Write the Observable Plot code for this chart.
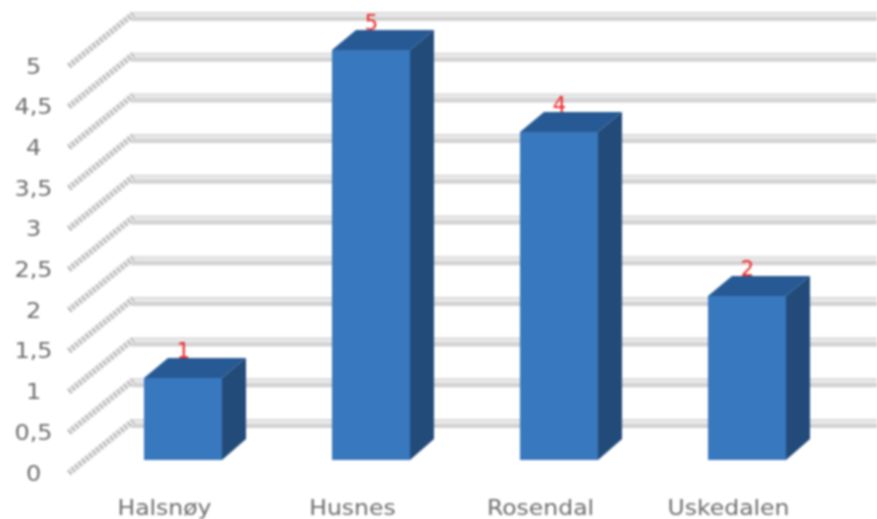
<!DOCTYPE html>
<html><head><meta charset="utf-8">
<script src="https://cdn.jsdelivr.net/npm/d3@7"></script>
<script src="https://cdn.jsdelivr.net/npm/@observablehq/plot@0.6"></script>
<style>
html,body{margin:0;padding:0;background:#fff}
svg{display:block;filter:blur(0.9px)}
</style></head><body><div id="chart"></div>
<script>
const categories = ["Halsnøy","Husnes","Rosendal","Uskedalen"];
const counts = [1,5,4,2];
const yTicks = [0,0.5,1,1.5,2,2.5,3,3.5,4,4.5,5];
const yTickLabels = ["0","0,5","1","1,5","2","2,5","3","3,5","4","4,5","5"];
const rows = categories.map((c,i)=>({category:c,count:counts[i]}));

const fontFamily = "'DejaVu Sans', Verdana, sans-serif";
const depthX = 24, depthY = 20;
const barWidth = 78;
const wallFactor = 81.4/82;          // the wall scale is slightly tighter than the bar plane
const wallY = (y, y0, off) => y0 + (y - y0) * wallFactor + off;

const polygon = (g, pts, fill) => g.append("polygon")
  .attr("points", pts.map(p=>p.join(",")).join(" ")).attr("fill", fill);

// the reference's text is stretched sideways: widen each label around its anchor
const stretch = (node, k) => {
  d3.select(node).selectAll("text").attr("transform", function(){
    const t = this.getAttribute("transform") || "";
    return `${t} scale(${k},1)`;
  });
  return node;
};

// horizontal back-wall gridlines: a soft band with a lighter core and a darker lower edge
const band = (stroke, strokeWidth, off) => Plot.ruleY(yTicks, {
  stroke, strokeWidth, insetLeft: 131,
  render(index, scales, values, dims, ctx, next){
    const y0 = scales.y(0);
    return next(index, scales, {...values, y: Array.from(values.y, y => wallY(y, y0, off))}, dims, ctx);
  }
});

// diagonal floor-to-wall hatch strokes
const diagonal = Plot.ruleY(yTicks, {
  render(index, scales, values){
    const y0 = scales.y(0);
    const g = d3.create("svg:g");
    for (const i of index) {
      const a = wallY(values.y[i], y0, 10), b = wallY(values.y[i], y0, -39);
      for (const [stroke, w, dash] of [["#ececec",6,null],["#b6b6b6",6,"2 2.5"]]) {
        const l = g.append("line").attr("x1",69).attr("y1",a+3).attr("x2",133).attr("y2",b)
          .attr("stroke",stroke).attr("stroke-width",w);
        if (dash) l.attr("stroke-dasharray",dash);
      }
    }
    return g.node();
  }
});

const cube = Plot.barY(rows, {
  x: "category", y: "count", fill: "#3878be", insetLeft: 55, insetRight: 55,
  render(index, scales, values, dims, ctx, next){
    const g = d3.create("svg:g");
    for (const i of index) {
      const mid = scales.x(rows[i].category) + 94;
      const xl = mid - barWidth/2, xr = mid + barWidth/2;
      const yt = scales.y(rows[i].count), yb = scales.y(0);
      polygon(g, [[xl,yt],[xr,yt],[xr+depthX,yt-depthY],[xl+depthX,yt-depthY]], "#275a94");
      polygon(g, [[xr,yt],[xr+depthX,yt-depthY],[xr+depthX,yb-depthY-1],[xr,yb]], "#224b7a");
    }
    g.append(() => next(index, scales, values, dims, ctx));
    return g.node();
  }
});

const yLabels = Plot.text(yTicks, {
  y: d=>d, text: (d,i)=>yTickLabels[i], frameAnchor: "left", dx: 33, textAnchor: "middle",
  fill: "#6e6e6e", fontSize: 22,
  render(index, scales, values, dims, ctx, next){
    const y0 = scales.y(0);
    return stretch(next(index, scales, {...values, y: Array.from(values.y, y => wallY(y, y0, 13))}, dims, ctx), 1.09);
  }
});

const chart = Plot.plot({
  width: 877, height: 519,
  marginLeft: 0, marginRight: 0, marginTop: 0, marginBottom: 0,
  style: {fontFamily, background: "#fff"},
  x: {type: "band", domain: categories, range: [89, 841], padding: 0, axis: null},
  y: {domain: [0,5], range: [460,50], axis: null},
  marks: [
    band("#d2d2d2", 9, -37),
    band("#e8e8e8", 4, -38.5),
    diagonal,
    yLabels,
    cube,
    Plot.text(rows, {x:"category", y:"count", text:"count", dy:-27, fill:"#f02424", fontSize:21}),
    Plot.text(categories, {x:d=>d, text:d=>d, frameAnchor:"bottom", dy:-5, dx:-19, fill:"#6e6e6e", fontSize:21,
      render(i,s,v,d,c,next){ return stretch(next(i,s,v,d,c), 1.12); }})
  ]
});
document.getElementById("chart").append(chart);
</script></body></html>
